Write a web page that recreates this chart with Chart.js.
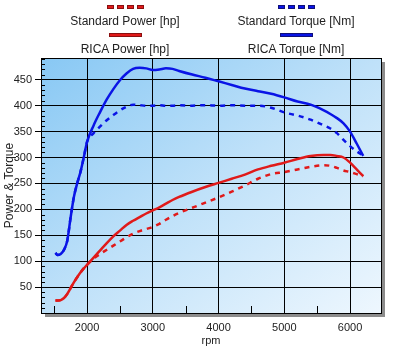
<!DOCTYPE html>
<html>
<head>
<meta charset="utf-8">
<script src="https://cdn.jsdelivr.net/npm/chart.js@4.4.1/dist/chart.umd.min.js"></script>
<style>
  html, body { margin: 0; padding: 0; background: #fff; }
  #wrap { position: relative; width: 400px; height: 350px; }
  #legend { position: absolute; left: 0; top: 0; width: 400px; height: 58px;
            font: 12px "Liberation Sans", Arial, sans-serif; color: #222; }
  .item { position: absolute; width: 180px; text-align: center; }
  .swatch { height: 4px; margin: 0 auto 5px auto; display: flex; justify-content: space-between; }
  .swatch span { display: block; height: 4px; box-sizing: border-box; }
  .label { line-height: 14px; }
</style>
</head>
<body>
<div id="wrap">
  <canvas id="chart" width="400" height="350"></canvas>
  <div id="legend"></div>
</div>
<script>
// rpm sample points
const rpm = [1520, 1550, 1600, 1650, 1700, 1750, 1800, 1850, 1900, 1950, 2000, 2100, 2200, 2300, 2400, 2500,
             2600, 2700, 2800, 2900, 3000, 3100, 3200, 3300, 3400, 3600, 3800, 4000, 4200, 4400, 4600, 4800,
             5000, 5200, 5400, 5600, 5700, 5800, 5900, 6000, 6100, 6200];

const ricaTorque = [116, 112, 114, 122, 140, 184, 224, 250, 272, 300, 330, 362, 388, 412, 432, 449,
                    462, 471, 473, 472, 469, 470, 472, 471, 467, 460, 454, 447, 440, 433, 428, 423,
                    416, 408, 402, 391, 384, 376, 366, 350, 327, 303];

const standardTorque = [116, 112, 114, 122, 140, 184, 224, 250, 272, 300, 330, 347, 360, 372, 382, 391,
                        398, 402, 401, 400, 400, 401, 400, 400, 401, 400, 401, 400, 401, 400, 400, 396,
                        387, 381, 373, 362, 356, 347, 334, 322, 312, 304];

const ricaPower = [24, 24, 25, 29, 37, 48, 59, 69, 78, 86, 93, 107, 121, 135, 148, 159,
                   170, 178, 185, 192, 198, 204, 211, 218, 224, 234, 243, 251, 259, 267, 277, 284,
                   290, 297, 303, 305, 305, 303, 300, 290, 277, 264];

const standardPower = [24, 24, 25, 29, 37, 48, 59, 69, 78, 86, 93, 105, 114, 122, 130, 138,
                       146, 153, 158, 162, 166, 172, 180, 187, 193, 203, 213, 223, 234, 246, 259, 268,
                       272, 277, 282, 285, 284, 280, 275, 272, 268, 264];

const rpmTicks = [2000, 3000, 4000, 5000, 6000];
const valueTicks = [50, 100, 150, 200, 250, 300, 350, 400, 450];

const RED = '#e01a1a';
const BLUE = '#0a14e6';

const toPoints = arr => rpm.map((r, i) => ({ x: r, y: arr[i] }));

const series = [
  { label: 'Standard Power [hp]',  data: standardPower,  color: RED,  dashed: true  },
  { label: 'Standard Torque [Nm]', data: standardTorque, color: BLUE, dashed: true  },
  { label: 'RICA Power [hp]',      data: ricaPower,      color: RED,  dashed: false },
  { label: 'RICA Torque [Nm]',     data: ricaTorque,     color: BLUE, dashed: false },
];

// legend: swatch above text, two columns
const legendEl = document.getElementById('legend');
series.forEach((s, i) => {
  const col = i % 2, row = Math.floor(i / 2);
  const item = document.createElement('div');
  item.className = 'item';
  item.style.left = (col === 0 ? 125 : 296) - 90 + 'px';
  item.style.top = (row === 0 ? 5 : 33) + 'px';
  const sw = document.createElement('div');
  sw.className = 'swatch';
  const border = s.color === RED ? '#8a1010' : '#10107a';
  if (s.dashed) {
    sw.style.width = '37px';
    for (let k = 0; k < 4; k++) {
      const d = document.createElement('span');
      d.style.width = '7px';
      d.style.background = s.color;
      d.style.border = '1px solid ' + border;
      sw.appendChild(d);
    }
  } else {
    sw.style.width = '33px';
    const d = document.createElement('span');
    d.style.width = '33px';
    d.style.background = s.color;
    d.style.border = '1px solid ' + border;
    sw.appendChild(d);
  }
  const lb = document.createElement('div');
  lb.className = 'label';
  lb.textContent = s.label;
  item.appendChild(sw);
  item.appendChild(lb);
  legendEl.appendChild(item);
});

// gradient plot area, drop shadow, frame and minor ticks
const plotFrame = {
  id: 'plotFrame',
  beforeDraw(chart) {
    const { ctx, chartArea: a } = chart;
    ctx.save();
    ctx.fillStyle = '#8c8c8c';
    ctx.fillRect(a.left + 4, a.top + 4, a.width, a.height);
    // corner to corner gradient: top-left blue, bottom-right near white
    const w = a.width, h = a.height;
    const t = 2 * w * h / (w * w + h * h);
    const g = ctx.createLinearGradient(a.left, a.top, a.left + h * t, a.top + w * t);
    g.addColorStop(0, '#88c8f4');
    g.addColorStop(0.5, '#bfe1f9');
    g.addColorStop(1, '#eef7fe');
    ctx.fillStyle = g;
    ctx.fillRect(a.left, a.top, a.width, a.height);
    ctx.restore();
  },
  beforeDatasetsDraw(chart) {
    const { ctx, chartArea: a, scales } = chart;
    ctx.save();
    ctx.strokeStyle = '#000';
    ctx.lineWidth = 1;
    ctx.beginPath();
    for (let v = 10; v < scales.y.max; v += 10) {
      if (v % 50 === 0) continue;
      const y = Math.round(scales.y.getPixelForValue(v)) + 0.5;
      ctx.moveTo(a.left, y);
      ctx.lineTo(a.left + 4, y);
    }
    for (let v = 1500; v < scales.x.max; v += 1000) {
      const x = Math.round(scales.x.getPixelForValue(v)) + 0.5;
      ctx.moveTo(x, a.bottom);
      ctx.lineTo(x, a.bottom - 7);
    }
    ctx.stroke();
    ctx.strokeRect(Math.round(a.left) + 0.5, Math.round(a.top) + 0.5, Math.round(a.width), Math.round(a.height));
    ctx.restore();
  },
};

Chart.defaults.font.family = '"Liberation Sans", Arial, sans-serif';
Chart.defaults.color = '#222';

new Chart(document.getElementById('chart'), {
  type: 'line',
  data: {
    datasets: series.map(s => ({
      label: s.label,
      data: toPoints(s.data),
      borderColor: s.color,
      borderWidth: 2.5,
      borderDash: s.dashed ? [5, 5] : [],
      pointRadius: 0,
      fill: false,
      cubicInterpolationMode: 'monotone',
    })),
  },
  options: {
    responsive: false,
    animation: false,
    events: [],
    layout: { padding: { top: 58, right: 19, left: 0, bottom: 0 } },
    plugins: { legend: { display: false }, tooltip: { enabled: false } },
    scales: {
      x: {
        type: 'linear',
        min: 1300,
        max: 6470,
        afterBuildTicks: s => { s.ticks = rpmTicks.map(v => ({ value: v })); },
        afterFit: s => { s.height = 37; },
        grid: { color: '#000', lineWidth: 1, drawTicks: false },
        border: { display: true, color: '#000' },
        ticks: { font: { size: 11 }, padding: 8, maxRotation: 0, autoSkip: false, callback: v => String(v) },
        title: { display: true, text: 'rpm', font: { size: 11 }, padding: { top: 0, bottom: 2 } },
      },
      y: {
        min: 0,
        max: 492,
        afterBuildTicks: s => { s.ticks = valueTicks.map(v => ({ value: v })); },
        afterFit: s => { s.width = 41; },
        grid: { color: '#000', lineWidth: 1, tickLength: 6 },
        border: { display: true, color: '#000' },
        ticks: { font: { size: 11 }, padding: 3, autoSkip: false, callback: v => String(v) },
        title: { display: true, text: 'Power & Torque', font: { size: 12 }, padding: { top: 2, bottom: 0 } },
      },
    },
  },
  plugins: [plotFrame],
});
</script>
</body>
</html>
